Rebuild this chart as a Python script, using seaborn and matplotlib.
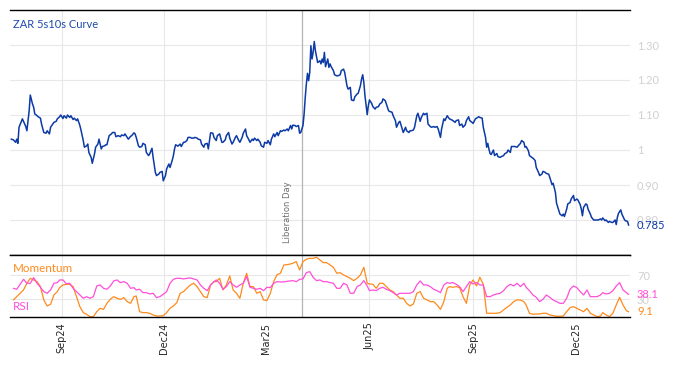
import matplotlib
matplotlib.use("Agg")
import matplotlib.pyplot as plt
import matplotlib.dates as mdates
import pandas as pd
import seaborn as sns

# ========== Данные ==========
START = pd.Timestamp("2024-07-18")
LIBERATION_DAY = pd.Timestamp("2025-04-02")

# дни от START и значения кривой 5s10s
curve_days = [
    0, 2, 4, 5, 6, 7, 10, 12, 13, 14, 16, 17, 19, 20, 21, 23, 24, 26, 27, 29,
    31, 32, 34, 35, 38, 40, 41, 43, 44, 46, 47, 49, 50, 52, 53, 55, 56, 58, 59, 61,
    62, 64, 65, 67, 68, 69, 71, 72, 74, 75, 77, 78, 80, 81, 83, 84, 85, 87, 89, 90,
    92, 93, 95, 97, 98, 100, 101, 103, 104, 106, 107, 109, 110, 111, 113, 114, 116, 117, 119, 120,
    122, 123, 125, 126, 128, 129, 131, 132, 134, 135, 137, 138, 140, 141, 143, 144, 145, 146, 148, 150,
    151, 153, 154, 156, 157, 159, 160, 162, 163, 165, 166, 168, 169, 171, 172, 174, 175, 176, 177, 179,
    180, 182, 183, 185, 187, 188, 190, 191, 193, 194, 196, 197, 199, 200, 202, 203, 205, 206, 208, 209,
    211, 212, 214, 215, 216, 218, 219, 221, 222, 224, 225, 227, 228, 230, 231, 233, 234, 236, 237, 239,
    240, 242, 243, 245, 246, 248, 249, 250, 252, 253, 255, 256, 257, 259, 260, 261, 262, 263, 264, 265,
    266, 267, 268, 269, 270, 271, 272, 274, 275, 276, 277, 278, 279, 281, 282, 283, 284, 286, 287, 289,
    290, 292, 293, 295, 296, 298, 299, 301, 302, 304, 305, 307, 308, 310, 311, 312, 313, 314, 316, 317,
    318, 320, 321, 323, 324, 326, 327, 329, 330, 332, 333, 335, 336, 338, 339, 341, 342, 344, 345, 347,
    348, 350, 351, 353, 354, 355, 357, 358, 360, 361, 363, 364, 366, 367, 369, 370, 372, 373, 375, 376,
    378, 379, 381, 382, 384, 385, 387, 388, 389, 391, 392, 394, 395, 397, 398, 400, 401, 403, 404, 406,
    407, 409, 410, 412, 413, 415, 416, 418, 419, 421, 422, 423, 424, 425, 426, 428, 429, 431, 432, 434,
    435, 437, 438, 440, 441, 443, 444, 446, 447, 449, 450, 452, 453, 455, 456, 457, 459, 460, 462, 463,
    465, 466, 468, 469, 471, 472, 474, 475, 477, 478, 480, 481, 483, 484, 486, 487, 489, 490, 491, 493,
    494, 496, 497, 499, 500, 502, 503, 505, 506, 507, 508, 510, 511, 512, 514, 515, 517, 518, 520, 521,
    523, 524, 525, 527, 528, 530, 531, 533, 534, 536, 537, 538, 539, 541, 542, 544, 545, 547, 548,
]
curve_values = [
    1.031, 1.029, 1.022, 1.031, 1.019, 1.065, 1.089, 1.074, 1.067, 1.055, 1.112, 1.157, 1.131, 1.122, 1.103, 1.098, 1.095, 1.091, 1.074, 1.050,
    1.048, 1.055, 1.046, 1.065, 1.079, 1.082, 1.089, 1.095, 1.100, 1.090, 1.098, 1.091, 1.100, 1.093, 1.098, 1.087, 1.091, 1.084, 1.089, 1.070,
    1.057, 1.027, 1.008, 1.012, 1.017, 0.993, 0.979, 0.962, 0.989, 1.008, 1.017, 1.031, 1.003, 1.010, 1.012, 1.015, 1.015, 1.041, 1.046, 1.050,
    1.050, 1.038, 1.041, 1.038, 1.043, 1.041, 1.046, 1.036, 1.031, 1.039, 1.041, 1.049, 1.046, 1.036, 1.012, 1.008, 1.010, 1.019, 1.015, 0.993,
    0.984, 0.989, 1.005, 0.979, 0.936, 0.927, 0.931, 0.936, 0.939, 0.912, 0.927, 0.946, 0.960, 0.950, 0.971, 0.984, 1.003, 1.015, 1.011, 1.017,
    1.010, 1.022, 1.022, 1.027, 1.036, 1.036, 1.034, 1.034, 1.036, 1.034, 1.031, 1.029, 1.017, 1.008, 1.017, 1.019, 1.003, 1.027, 1.049, 1.048,
    1.036, 1.027, 1.041, 1.046, 1.022, 1.022, 1.029, 1.041, 1.050, 1.034, 1.017, 1.022, 1.036, 1.041, 1.027, 1.022, 1.036, 1.048, 1.060, 1.041,
    1.029, 1.022, 1.031, 1.027, 1.034, 1.027, 1.031, 1.022, 1.012, 1.008, 1.022, 1.019, 1.027, 1.015, 1.031, 1.046, 1.038, 1.050, 1.041, 1.055,
    1.053, 1.057, 1.055, 1.060, 1.055, 1.070, 1.060, 1.071, 1.070, 1.067, 1.070, 1.048, 1.050, 1.070, 1.103, 1.150, 1.189, 1.219, 1.198, 1.222,
    1.298, 1.260, 1.279, 1.310, 1.284, 1.267, 1.250, 1.255, 1.246, 1.260, 1.250, 1.279, 1.238, 1.260, 1.236, 1.246, 1.238, 1.227, 1.215, 1.212,
    1.212, 1.215, 1.227, 1.231, 1.222, 1.184, 1.174, 1.179, 1.143, 1.141, 1.152, 1.160, 1.162, 1.184, 1.203, 1.215, 1.193, 1.155, 1.101, 1.127,
    1.143, 1.133, 1.124, 1.117, 1.122, 1.124, 1.131, 1.136, 1.146, 1.141, 1.131, 1.112, 1.110, 1.108, 1.098, 1.084, 1.065, 1.079, 1.082, 1.060,
    1.050, 1.065, 1.055, 1.050, 1.055, 1.055, 1.057, 1.065, 1.098, 1.105, 1.082, 1.093, 1.105, 1.101, 1.105, 1.074, 1.067, 1.065, 1.067, 1.065,
    1.067, 1.060, 1.036, 1.060, 1.089, 1.084, 1.098, 1.093, 1.089, 1.086, 1.084, 1.079, 1.084, 1.086, 1.070, 1.074, 1.065, 1.072, 1.084, 1.095,
    1.084, 1.079, 1.076, 1.089, 1.091, 1.095, 1.093, 1.091, 1.065, 1.036, 1.008, 1.019, 1.003, 0.990, 0.987, 1.000, 0.984, 0.990, 0.981, 0.979,
    0.981, 0.984, 0.989, 0.993, 1.000, 0.993, 1.010, 1.010, 1.010, 1.008, 1.012, 1.019, 1.027, 1.022, 1.008, 1.010, 0.998, 0.984, 0.979, 0.977,
    0.970, 0.950, 0.936, 0.927, 0.931, 0.939, 0.936, 0.933, 0.931, 0.922, 0.901, 0.905, 0.879, 0.848, 0.827, 0.817, 0.812, 0.817, 0.810, 0.831,
    0.846, 0.850, 0.860, 0.870, 0.855, 0.860, 0.857, 0.844, 0.831, 0.812, 0.836, 0.846, 0.844, 0.831, 0.817, 0.808, 0.800, 0.800, 0.800, 0.800,
    0.803, 0.800, 0.806, 0.798, 0.800, 0.793, 0.796, 0.793, 0.793, 0.800, 0.787, 0.808, 0.819, 0.829, 0.817, 0.803, 0.798, 0.796, 0.785,
]

# осцилляторы: дни от START, Momentum и RSI
osc_days = [
    2, 5, 8, 11, 14, 17, 20, 23, 26, 29, 32, 35, 38, 41, 43, 46, 49, 52, 55, 58,
    61, 64, 67, 70, 73, 76, 79, 82, 85, 88, 91, 94, 97, 100, 103, 106, 109, 111, 114, 117,
    120, 123, 126, 129, 132, 135, 138, 141, 144, 147, 150, 153, 156, 159, 162, 165, 168, 171, 174, 177,
    180, 182, 185, 188, 191, 194, 197, 200, 203, 206, 209, 212, 215, 218, 221, 224, 227, 230, 233, 236,
    239, 242, 245, 248, 250, 253, 256, 259, 262, 265, 268, 271, 274, 277, 280, 283, 286, 289, 292, 295,
    298, 301, 304, 307, 310, 313, 316, 318, 321, 324, 327, 330, 333, 336, 339, 342, 345, 348, 351, 354,
    357, 360, 363, 366, 369, 372, 375, 378, 381, 384, 387, 389, 392, 395, 398, 401, 404, 407, 410, 413,
    416, 419, 422, 425, 428, 431, 434, 437, 440, 443, 446, 449, 452, 455, 457, 460, 463, 466, 469, 472,
    475, 478, 481, 484, 487, 490, 493, 496, 499, 502, 505, 508, 511, 514, 517, 520, 523, 525, 528, 531,
    534, 537, 540, 543, 546, 548,
]
momentum = [
    28.9, 34.4, 40, 45.6, 56.7, 65, 62.2, 59.4, 51.1, 28.9,
    18.9, 21.7, 37.2, 42.8, 49.4, 53.9, 55, 55, 51.1, 34.4,
    17.8, 7.8, 5, 1.1, 1.1, 9.4, 15, 13.3, 23.3, 30,
    34.4, 31.7, 30, 32.8, 26.1, 23.3, 34.4, 35.6, 9.4, 7.8,
    7.8, 6.7, 3.9, 2.2, 2.2, 2.8, 7.8, 15, 18.9, 24.4,
    40, 42.8, 48.3, 53.9, 56.7, 51.1, 42.8, 34.4, 32.8, 53.9,
    59.4, 59.4, 65, 45.6, 53.9, 68.9, 45.6, 40, 31.7, 56.7,
    73.3, 51.1, 51.1, 40, 42.8, 28.9, 27.8, 40, 59.4, 71.1,
    73.3, 87.2, 87.8, 88.9, 90, 92.8, 78.9, 92.8, 96.7, 98.3,
    98.3, 100, 95.6, 91.1, 91.1, 87.2, 83.3, 73.3, 74.4, 70.6,
    67.8, 65, 61.1, 65, 70.6, 83.3, 56.7, 55.6, 55, 48.3,
    56.7, 56.7, 51.1, 45.6, 42.8, 37.2, 31.7, 31.7, 23.3, 18.9,
    22.2, 40, 42.8, 31.7, 28.9, 26.1, 26.1, 20.6, 13.3, 26.1,
    48.3, 51.1, 50, 51.1, 49.4, 34.4, 23.3, 53.9, 62.2, 52.2,
    66.7, 55, 6.7, 6.7, 6.7, 6.7, 7.8, 12.2, 16.7, 20.6,
    26.1, 28.9, 28.9, 26.1, 20.6, 6.7, 5, 5.6, 5.6, 6.7,
    6.7, 3.9, 2.8, 1.7, 1.7, 2.2, 9.4, 16.1, 17.8, 15,
    12.2, 9.4, 15, 6.7, 3.9, 1.1, 2.2, 7.8, 3.9, 1.1,
    6.7, 20.6, 33.3, 20.6, 11.1, 9.1,
]
rsi = [
    48.3, 46.7, 55, 63.3, 56.7, 56.7, 66.1, 56.7, 50, 42.8,
    40, 45.6, 56.7, 57.8, 62.2, 62.2, 56.1, 56.7, 48.3, 42.8,
    37.2, 31.7, 34.4, 31.7, 34.4, 52.2, 53.9, 48.3, 46.7, 52.2,
    60.6, 62.2, 57.8, 59.4, 56.7, 48.3, 49.4, 45.6, 46.7, 41.1,
    41.1, 38.9, 40, 32.8, 34.4, 38.3, 42.8, 56.7, 63.3, 65,
    65, 63.9, 65, 65.6, 63.9, 62.2, 53.9, 48.3, 44.4, 53.9,
    59.4, 62.2, 56.7, 46.7, 51.1, 59.4, 53.9, 50, 53.9, 56.7,
    67.8, 50, 48.3, 46.7, 48.3, 44.4, 50, 49.4, 56.7, 59.4,
    58.9, 58.9, 60, 60.6, 61.1, 59.4, 63.3, 63.9, 74.4, 76.1,
    66.7, 61.1, 62.2, 59.4, 59.4, 57.8, 56.7, 48.3, 48.3, 56.7,
    53.9, 40, 40, 51.1, 53.9, 61.1, 52.2, 44.4, 45.6, 44.4,
    48.3, 50, 46.7, 44.4, 41.1, 37.2, 40, 40, 40, 40,
    42.8, 53.9, 60.6, 53.9, 53.9, 51.1, 46.7, 44.4, 41.1, 53.9,
    57.8, 56.7, 57.8, 55, 51.1, 42.8, 51.1, 59.4, 55.6, 57.8,
    53.9, 53.9, 34.4, 34.4, 37.2, 38.9, 40, 44.4, 51.1, 55,
    52.2, 56.7, 51.1, 56.7, 50, 44.4, 37.2, 33.3, 26.1, 30,
    37.2, 33.3, 28.9, 26.1, 23.3, 23.3, 31.7, 46.7, 52.2, 49.4,
    42.8, 37.2, 45.6, 34.4, 34.4, 34.4, 37.2, 41.1, 38.9, 40,
    44.4, 52.2, 57.8, 45.6, 41.1, 38.1,
]

curve_ticks = [0.80, 0.90, 1.00, 1.10, 1.20, 1.30]
curve_tick_labels = ["0.80", "0.90", "1", "1.10", "1.20", "1.30"]
osc_ticks = [30, 70]
month_ticks = ["2024-09-01", "2024-12-01", "2025-03-01", "2025-06-01", "2025-09-01", "2025-12-01"]

BLUE = "#0c3aa6"
ORANGE = "#ff8a1c"
PINK = "#ff4fd8"
GRID = "#e8e8e8"
LABEL_GREY = "#d0d0d0"

sns.set_style("white")
plt.rcParams["font.family"] = ["DejaVu Sans"]

curve = pd.DataFrame({"date": START + pd.to_timedelta(curve_days, unit="D"), "value": curve_values})
osc = pd.DataFrame({
    "date": START + pd.to_timedelta(osc_days, unit="D"),
    "Momentum": momentum,
    "RSI": rsi,
})

fig = plt.figure(figsize=(6.74, 3.66), dpi=100)
ax = fig.add_axes([10 / 674, 1 - 255 / 366, 620 / 674, 245 / 366])
ax2 = fig.add_axes([10 / 674, 1 - 317 / 366, 620 / 674, 62 / 366], sharex=ax)

# ========== Верхняя панель: кривая ==========
sns.lineplot(data=curve, x="date", y="value", ax=ax, color=BLUE, lw=1.1, estimator=None)
ax.set_xlim(START - pd.Timedelta(days=1), START + pd.Timedelta(days=549.2))
ax.set_ylim(0.70, 1.40)
ax.yaxis.tick_right()
ax.set_yticks(curve_ticks)
ax.set_yticklabels(curve_tick_labels)
ax.set_xticks(pd.to_datetime(month_ticks))
ax.tick_params(axis="y", length=0, colors=LABEL_GREY, labelsize=8, pad=5)
ax.tick_params(axis="x", direction="in", length=5, color="black", labelbottom=False)
ax.grid(True, color=GRID, lw=0.8)
ax.set_xlabel("")
ax.set_ylabel("")
for side in ["left", "right"]:
    ax.spines[side].set_visible(False)
for side in ["top", "bottom"]:
    ax.spines[side].set_color("black")
    ax.spines[side].set_linewidth(1)

ax.axvline(LIBERATION_DAY, color="#b4b4b4", lw=0.9, zorder=1)
ax.annotate("Liberation Day", xy=(LIBERATION_DAY, 0.733), xytext=(-7, 0), textcoords="offset points",
            rotation=90, ha="right", va="bottom", fontsize=6, color="#6e6e6e")
ax.text(0.005, 0.939, "ZAR 5s10s Curve", transform=ax.transAxes, color="#1e4bab",
        fontsize=8, va="center", ha="left", family="Lato")
ax.annotate("0.785", xy=(1, curve_values[-1]), xycoords=("axes fraction", "data"), xytext=(5, 0),
            textcoords="offset points", va="center", ha="left", color=BLUE, fontsize=8, family="Lato")

# ========== Нижняя панель: Momentum и RSI ==========
sns.lineplot(data=osc, x="date", y="Momentum", ax=ax2, color=ORANGE, lw=0.9, estimator=None)
sns.lineplot(data=osc, x="date", y="RSI", ax=ax2, color=PINK, lw=0.9, estimator=None)
ax2.axvline(LIBERATION_DAY, color="#b4b4b4", lw=0.9, zorder=1)
ax2.set_ylim(0.5, 103.8)
ax2.yaxis.tick_right()
ax2.set_yticks(osc_ticks)
ax2.set_yticklabels([str(t) for t in osc_ticks])
ax2.tick_params(axis="y", length=0, colors=LABEL_GREY, labelsize=8, pad=5)
ax2.tick_params(axis="x", direction="in", length=5, color="black", labelsize=7, pad=4)
ax2.xaxis.set_major_formatter(mdates.DateFormatter("%b%y"))
plt.setp(ax2.get_xticklabels(), rotation=90)
ax2.grid(True, color=GRID, lw=0.8)
ax2.set_xlabel("")
ax2.set_ylabel("")
for side in ["left", "right"]:
    ax2.spines[side].set_visible(False)
for side in ["top", "bottom"]:
    ax2.spines[side].set_color("black")
    ax2.spines[side].set_linewidth(1)

ax2.text(0.005, 0.79, "Momentum", transform=ax2.transAxes, color=ORANGE, fontsize=8.4,
         va="center", ha="left", family="Lato")
ax2.text(0.005, 0.177, "RSI", transform=ax2.transAxes, color=PINK, fontsize=8.4,
         va="center", ha="left", family="Lato")
ax2.annotate(f"{rsi[-1]:.1f}", xy=(1, rsi[-1]), xycoords=("axes fraction", "data"), xytext=(5, 0),
             textcoords="offset points", va="center", ha="left", color=PINK, fontsize=8, family="Lato")
ax2.annotate(f"{momentum[-1]:.1f}", xy=(1, momentum[-1]), xycoords=("axes fraction", "data"), xytext=(5, 0),
             textcoords="offset points", va="center", ha="left", color=ORANGE, fontsize=8, family="Lato")

for lbl in ax.get_yticklabels() + ax2.get_yticklabels():
    lbl.set_family("Lato")

fig.savefig("out.png", dpi=100)
